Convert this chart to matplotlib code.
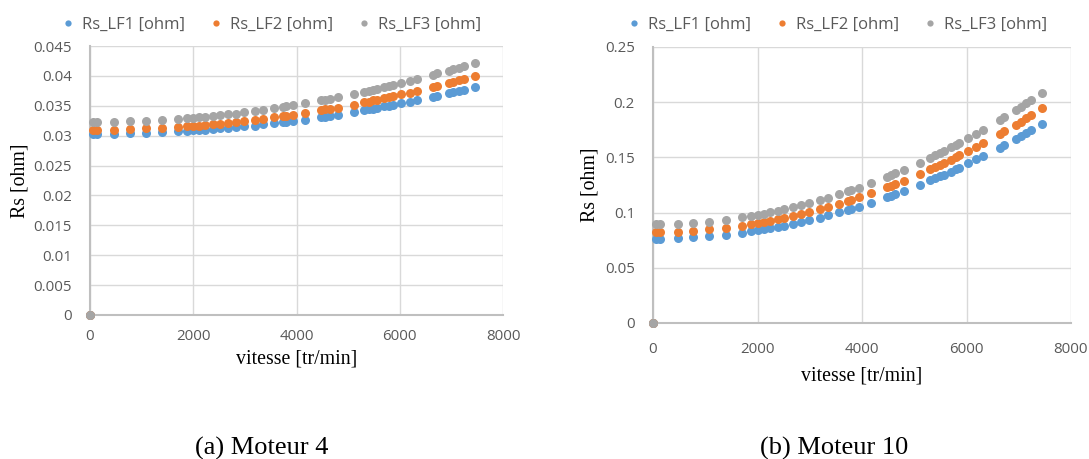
import numpy as np
import matplotlib
matplotlib.use("Agg")
import matplotlib.pyplot as plt
from matplotlib.lines import Line2D

# vitesse [tr/min] (same operating points for both motors)
vitesse = [0, 65, 130, 470, 770, 1080, 1390, 1705, 1885, 2000, 2115, 2230, 2385,
           2515, 2675, 2835, 2990, 3195, 3355, 3560, 3735, 3790, 3940, 4170,
           4480, 4560, 4640, 4795, 5105, 5305, 5400, 5485, 5565, 5700, 5790,
           5860, 6030, 6190, 6325, 6640, 6720, 6945, 7035, 7145, 7240, 7450]

# Moteur 4
m4_lf1 = [0, 0.0303, 0.0303, 0.0303, 0.0304, 0.0305, 0.0306, 0.0307, 0.0308, 0.0309,
          0.0309, 0.0310, 0.0311, 0.0312, 0.0313, 0.0314, 0.0316, 0.0317, 0.0319,
          0.0321, 0.0323, 0.0323, 0.0325, 0.0327, 0.0331, 0.0332, 0.0333, 0.0335,
          0.0340, 0.0343, 0.0344, 0.0345, 0.0347, 0.0349, 0.0350, 0.0351, 0.0354,
          0.0357, 0.0359, 0.0365, 0.0366, 0.0371, 0.0373, 0.0375, 0.0377, 0.0381]
m4_lf2 = [0, 0.0310, 0.0310, 0.0310, 0.0311, 0.0312, 0.0313, 0.0315, 0.0316, 0.0316,
          0.0317, 0.0318, 0.0319, 0.0320, 0.0322, 0.0323, 0.0324, 0.0327, 0.0328,
          0.0331, 0.0333, 0.0333, 0.0335, 0.0338, 0.0343, 0.0344, 0.0345, 0.0347,
          0.0352, 0.0356, 0.0357, 0.0359, 0.0360, 0.0363, 0.0364, 0.0366, 0.0369,
          0.0372, 0.0375, 0.0381, 0.0383, 0.0388, 0.0390, 0.0393, 0.0395, 0.0400]
m4_lf3 = [0, 0.0323, 0.0323, 0.0323, 0.0324, 0.0325, 0.0326, 0.0328, 0.0329, 0.0330,
          0.0331, 0.0332, 0.0333, 0.0334, 0.0336, 0.0337, 0.0339, 0.0341, 0.0343,
          0.0346, 0.0348, 0.0349, 0.0351, 0.0354, 0.0359, 0.0360, 0.0361, 0.0364,
          0.0369, 0.0373, 0.0375, 0.0377, 0.0378, 0.0381, 0.0383, 0.0384, 0.0388,
          0.0391, 0.0394, 0.0402, 0.0404, 0.0409, 0.0411, 0.0414, 0.0416, 0.0422]

# Moteur 10
m10_lf1 = [0, 0.0764, 0.0764, 0.0768, 0.0775, 0.0786, 0.0800, 0.0818, 0.0830, 0.0839,
           0.0848, 0.0857, 0.0870, 0.0882, 0.0898, 0.0914, 0.0931, 0.0955, 0.0975,
           0.1001, 0.1025, 0.1033, 0.1055, 0.1090, 0.1140, 0.1153, 0.1167, 0.1194,
           0.1252, 0.1291, 0.1310, 0.1327, 0.1344, 0.1372, 0.1392, 0.1407, 0.1445,
           0.1481, 0.1513, 0.1589, 0.1609, 0.1667, 0.1690, 0.1720, 0.1745, 0.1803]
m10_lf2 = [0, 0.0824, 0.0824, 0.0828, 0.0836, 0.0848, 0.0863, 0.0883, 0.0896, 0.0905,
           0.0914, 0.0924, 0.0939, 0.0952, 0.0969, 0.0986, 0.1004, 0.1030, 0.1051,
           0.1080, 0.1106, 0.1114, 0.1138, 0.1175, 0.1229, 0.1244, 0.1259, 0.1288,
           0.1350, 0.1392, 0.1413, 0.1432, 0.1450, 0.1480, 0.1501, 0.1518, 0.1558,
           0.1598, 0.1632, 0.1715, 0.1736, 0.1798, 0.1824, 0.1855, 0.1883, 0.1945]
m10_lf3 = [0, 0.0894, 0.0894, 0.0899, 0.0907, 0.0919, 0.0935, 0.0956, 0.0970, 0.0980,
           0.0990, 0.1001, 0.1016, 0.1030, 0.1048, 0.1066, 0.1086, 0.1113, 0.1136,
           0.1166, 0.1193, 0.1202, 0.1227, 0.1267, 0.1325, 0.1340, 0.1356, 0.1387,
           0.1453, 0.1498, 0.1520, 0.1540, 0.1559, 0.1591, 0.1613, 0.1631, 0.1674,
           0.1716, 0.1752, 0.1840, 0.1863, 0.1929, 0.1956, 0.1989, 0.2019, 0.2085]

noms = ["Rs_LF1 [ohm]", "Rs_LF2 [ohm]", "Rs_LF3 [ohm]"]
couleurs = ["#5B9BD5", "#ED7D31", "#A5A5A5"]

m4_ticks = [0, 0.005, 0.01, 0.015, 0.02, 0.025, 0.03, 0.035, 0.04, 0.045]
m4_labels = ["0", "0.005", "0.01", "0.015", "0.02", "0.025", "0.03", "0.035", "0.04", "0.045"]
m10_ticks = [0, 0.05, 0.1, 0.15, 0.2, 0.25]
m10_labels = ["0", "0.05", "0.1", "0.15", "0.2", "0.25"]
x_ticks = [0, 2000, 4000, 6000, 8000]

W, H = 1089, 459
fig = plt.figure(figsize=(W / 100, H / 100), dpi=100)

def px(x0, y0, x1, y1):
    # pixel box -> figure fraction
    return [x0 / W, 1 - y1 / H, (x1 - x0) / W, (y1 - y0) / H]

tick_font = "Open Sans"
serif = "Liberation Serif"

def draw(box, series, yticks, ylabels, ymax, xpad, ylab_x, xlab_x, xlab_y, leg_cx, cap, cap_cx):
    ax = fig.add_axes(px(*box))
    for vals, c in zip(series, couleurs):
        ax.plot(vitesse, vals, linestyle="None", marker="o", markersize=6.5,
                color=c, markeredgewidth=0, clip_on=False, zorder=3)
    ax.set_xlim(0, 8000)
    ax.set_ylim(0, ymax)
    ax.set_xticks(x_ticks)
    ax.set_xticklabels([str(t) for t in x_ticks])
    ax.set_yticks(yticks)
    ax.set_yticklabels(ylabels)
    ax.grid(True, color="#D9D9D9", linewidth=1)
    ax.set_axisbelow(True)
    for s in ["top", "right"]:
        ax.spines[s].set_visible(False)
    for s in ["left", "bottom"]:
        ax.spines[s].set_color("#BFBFBF")
        ax.spines[s].set_linewidth(1.5)
    ax.tick_params(length=0, labelsize=10.8, labelcolor="#595959")
    ax.tick_params(axis="x", pad=xpad)
    ax.tick_params(axis="y", pad=13)
    for lab in ax.get_xticklabels() + ax.get_yticklabels():
        lab.set_fontfamily(tick_font)
    cy = (box[1] + box[3]) / 2
    fig.text(ylab_x / W, 1 - cy / H, "Rs [ohm]", rotation=90, ha="center", va="center",
             family=serif, fontsize=14.3)
    fig.text(xlab_x / W, 1 - xlab_y / H, "vitesse [tr/min]", ha="center", va="center",
             family=serif, fontsize=14.3)
    handles = [Line2D([], [], linestyle="None", marker="o", markersize=4.5,
                      color=c, markeredgewidth=0) for c in couleurs]
    fig.legend(handles, noms, loc="center", bbox_to_anchor=(leg_cx / W, 1 - 25 / H),
               ncol=3, frameon=False, handlelength=0.6, handletextpad=0.5,
               columnspacing=1.6, prop={"family": tick_font, "size": 12},
               labelcolor="#595959")
    fig.text(cap_cx / W, 1 - 448 / H, cap, ha="center", va="center",
             family=serif, fontsize=19)
    return ax

draw((90, 46, 503, 315), [m4_lf1, m4_lf2, m4_lf3], m4_ticks, m4_labels, 0.045,
     10, 20, 297, 359, 272, "(a) Moteur 4", 262)
draw((653, 47, 1071, 323), [m10_lf1, m10_lf2, m10_lf3], m10_ticks, m10_labels, 0.25,
     13.5, 590, 862, 376, 838, "(b) Moteur 10", 834)

fig.savefig("out.png", dpi=100)
